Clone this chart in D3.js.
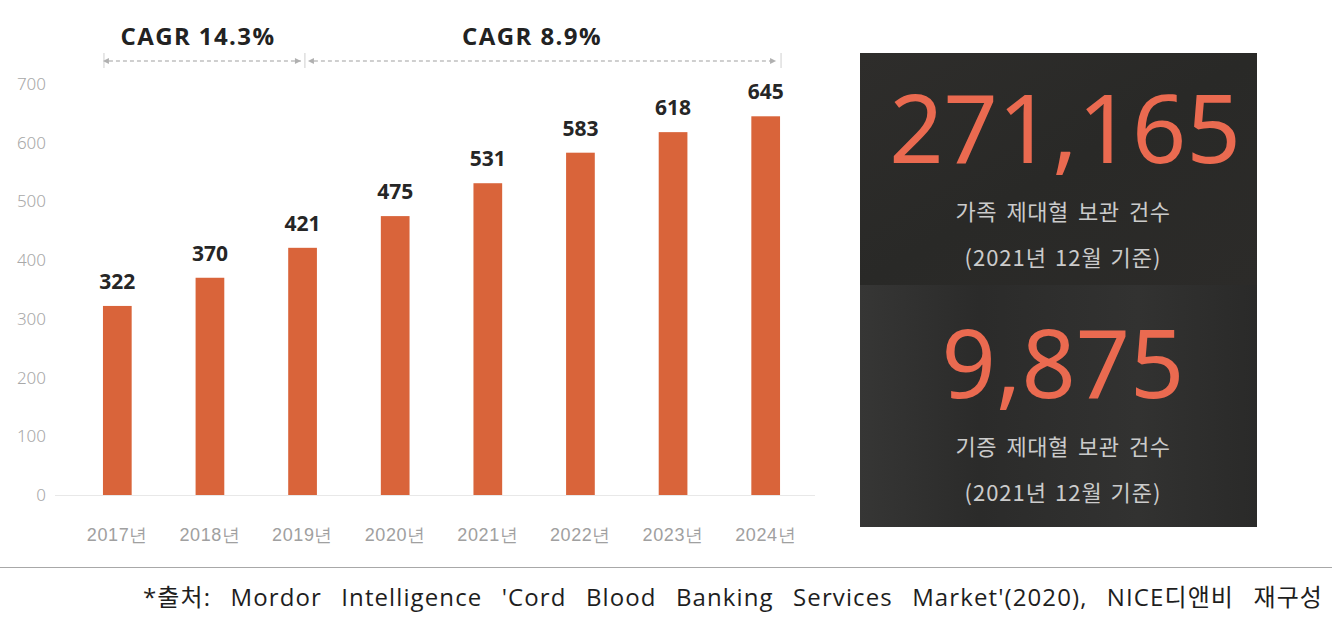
<!DOCTYPE html>
<html><head><meta charset="utf-8">
<script src="https://cdn.jsdelivr.net/npm/d3@7"></script>
<style>
html,body{margin:0;padding:0;background:#fff;}
svg{display:block;font-family:"Noto Sans CJK KR","Noto Sans",sans-serif;}
</style></head>
<body><svg id="c" width="1332" height="620"></svg>
<script>
const years = ["2017년","2018년","2019년","2020년","2021년","2022년","2023년","2024년"];
const values = [322,370,421,475,531,583,618,645];
const yTicks = [0,100,200,300,400,500,600,700];
const cagrLabels = ["CAGR 14.3%","CAGR 8.9%"];
const bigNumbers = ["271,165","9,875"];
const bigCaptions = ["가족 제대혈 보관 건수","기증 제대혈 보관 건수"];
const bigNotes = ["(2021년 12월 기준)","(2021년 12월 기준)"];
const sourceText = "*출처: Mordor Intelligence 'Cord Blood Banking Services Market'(2020), NICE디앤비 재구성";

const svg = d3.select("#c");
const barColor = "#d9643a";

const x = d3.scaleBand().domain(years).range([71,812]).paddingInner(0.69).paddingOuter(0.345);
const y = d3.scaleLinear().domain([0,700]).range([495,84]);

// baseline
svg.append("line").attr("x1",55).attr("x2",815).attr("y1",y(0)+0.5).attr("y2",y(0)+0.5)
  .attr("stroke","#e8e8e8").attr("stroke-width",1);

// y axis labels
const yAxis = d3.axisLeft(y).tickValues(yTicks).tickSize(0).tickPadding(0);
const ga = svg.append("g").attr("transform","translate(46,0)").call(yAxis);
ga.select(".domain").remove();
ga.selectAll("text").attr("fill","#a8a8a8").attr("font-size",17).attr("font-family","'Noto Sans','DejaVu Sans',sans-serif").attr("font-weight",300);

// x labels
const xAxis = d3.axisBottom(x).tickSize(0).tickPadding(0);
const gx = svg.append("g").attr("transform","translate(0,541)").call(xAxis);
gx.select(".domain").remove();
gx.selectAll("text").attr("fill","#a0a0a0").attr("font-size",18).attr("dy",0).attr("y",0)
  .attr("letter-spacing",0.6).attr("font-weight",300);

// bars
svg.append("g").selectAll("rect").data(values).join("rect")
  .attr("x",(d,i)=>x(years[i])).attr("width",x.bandwidth())
  .attr("y",d=>y(d)).attr("height",d=>y(0)-y(d)).attr("fill",barColor);

// value labels
svg.append("g").selectAll("text").data(values).join("text")
  .attr("x",(d,i)=>x(years[i])+x.bandwidth()/2).attr("y",d=>y(d)-17)
  .attr("text-anchor","middle").attr("font-size",21).attr("font-weight",700)
  .attr("fill","#262626").attr("font-family","'Open Sans','Noto Sans',sans-serif").text(d=>d);

// CAGR annotations
const defs = svg.append("defs");
["s","e"].forEach(k=>{
  defs.append("marker").attr("id","ar"+k).attr("viewBox","0 0 10 10").attr("refX",k==="e"?10:0).attr("refY",5)
    .attr("markerWidth",8).attr("markerHeight",6).attr("orient","auto-start-reverse").attr("markerUnits","userSpaceOnUse")
    .append("path").attr("d","M0,0L10,5L0,10Z").attr("fill","#b0b0b0");
});
const tickXs = [x(years[0])+1, x(years[2])+x.bandwidth()-12, x(years[7])+x.bandwidth()+1];
const arrowY = 61;
tickXs.forEach(tx=>{
  svg.append("line").attr("x1",tx).attr("x2",tx).attr("y1",53).attr("y2",68).attr("stroke","#cfcfcf").attr("stroke-width",1);
});
const segs = [[tickXs[0]+5,tickXs[1]-4],[tickXs[1]+9,tickXs[2]-5]];
segs.forEach((s,i)=>{
  svg.append("line").attr("x1",s[0]).attr("x2",s[1]).attr("y1",arrowY).attr("y2",arrowY)
    .attr("stroke","#c0c0c0").attr("stroke-width",1.3).attr("stroke-dasharray","4,3")
    .attr("marker-start","url(#ars)").attr("marker-end","url(#are)");
  svg.append("text").attr("x",i===0?198:532).attr("y",45).attr("text-anchor","middle")
    .attr("font-size",24).attr("font-weight",700).attr("fill","#222").attr("letter-spacing",1.4)
    .attr("font-family","'Open Sans','Noto Sans',sans-serif").text(cagrLabels[i]);
});

// right panel
const px=860, py=53, pw=397, ph=474;
const grad1 = defs.append("linearGradient").attr("id","g1").attr("x1",0).attr("y1",0).attr("x2",1).attr("y2",1);
grad1.append("stop").attr("offset","0").attr("stop-color","#2e2d2b");
grad1.append("stop").attr("offset","0.5").attr("stop-color","#292927");
grad1.append("stop").attr("offset","1").attr("stop-color","#2c2b29");
const grad2 = defs.append("linearGradient").attr("id","g2").attr("x1",0).attr("y1",0).attr("x2",1).attr("y2",0);
grad2.append("stop").attr("offset","0").attr("stop-color","#363635");
grad2.append("stop").attr("offset","0.3").attr("stop-color","#2b2b2a");
grad2.append("stop").attr("offset","0.7").attr("stop-color","#323231");
grad2.append("stop").attr("offset","1").attr("stop-color","#2a2a29");
svg.append("rect").attr("x",px).attr("y",py).attr("width",pw).attr("height",232).attr("fill","url(#g1)");
svg.append("rect").attr("x",px).attr("y",py+232).attr("width",pw).attr("height",ph-232).attr("fill","url(#g2)");

const numY = [163,398], capY=[220,455], noteY=[266,501];
bigNumbers.forEach((n,i)=>{
  svg.append("text").attr("x",1065 - (i===1?2:0)).attr("y",numY[i]).attr("text-anchor","middle")
    .attr("font-size",95).attr("font-weight",400).attr("fill","#ea6a50")
    .attr("font-family","'Noto Sans','Open Sans',sans-serif").text(n);
  svg.append("text").attr("x",1063).attr("y",capY[i]).attr("text-anchor","middle")
    .attr("font-size",22).attr("fill","#cbcbcb").attr("word-spacing",4).attr("letter-spacing",0.5).text(bigCaptions[i]);
  svg.append("text").attr("x",1063).attr("y",noteY[i]).attr("text-anchor","middle")
    .attr("font-size",22).attr("fill","#cbcbcb").attr("letter-spacing",1).attr("word-spacing",2).text(bigNotes[i]);
});

// bottom rule and source
svg.append("line").attr("x1",0).attr("x2",1332).attr("y1",567.5).attr("y2",567.5).attr("stroke","#a8a8a8").attr("stroke-width",1.2);
const src = svg.append("text").attr("x",143).attr("y",606).attr("font-size",24).attr("fill","#1e1e1e")
  .attr("font-family","'Open Sans','Noto Sans CJK KR',sans-serif").attr("letter-spacing",1.1).text(sourceText);
const natW = src.node().getComputedTextLength();
const nSpaces = sourceText.split(" ").length - 1;
src.attr("word-spacing", Math.max(0,(1180 - natW)/nSpaces));
</script></body></html>
